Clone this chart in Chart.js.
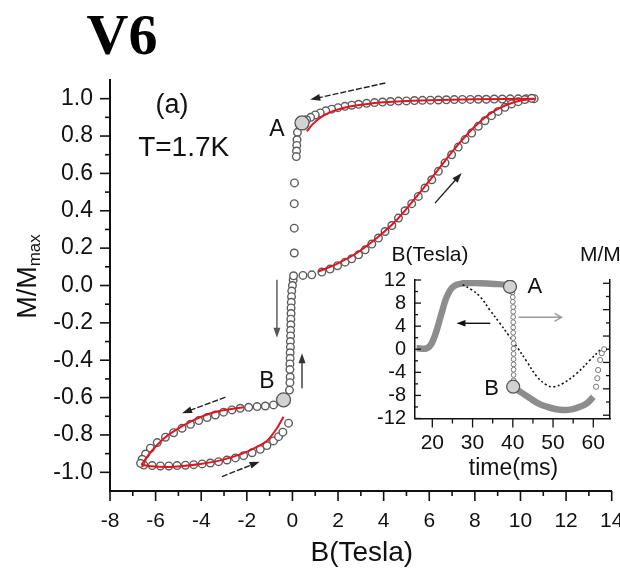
<!DOCTYPE html>
<html>
<head>
<meta charset="utf-8">
<script src="https://cdn.jsdelivr.net/npm/chart.js@4.4.1/dist/chart.umd.min.js"></script>
<style>
  html, body { margin: 0; padding: 0; background: #fff; }
  #wrap { position: relative; width: 620px; height: 570px; overflow: hidden; }
  #main { position: absolute; left: 0; top: 0; }
  #inset { position: absolute; left: 370px; top: 235px; }
</style>
</head>
<body>
<div id="wrap">
  <canvas id="main" width="620" height="570" style="width:620px;height:570px"></canvas>
  <canvas id="inset" width="250" height="245" style="width:250px;height:245px"></canvas>
</div>
<script>
// ---- main loop, open circles (B in Tesla, M/Mmax) ----
const riseB = [0.05, 0.46, 0.85, 1.29, 1.65, 1.98, 2.31, 2.60, 2.90, 3.19, 3.48, 3.77, 4.06, 4.36, 4.65, 4.94, 5.23, 5.52, 5.81, 6.11, 6.40, 6.69, 6.98, 7.27, 7.57, 7.86, 8.15, 8.44, 8.73, 9.02, 9.32, 9.61, 9.90, 10.19, 10.49]
const riseM = [0.052, 0.054, 0.057, 0.072, 0.088, 0.106, 0.125, 0.143, 0.164, 0.191, 0.222, 0.254, 0.289, 0.321, 0.361, 0.400, 0.438, 0.477, 0.522, 0.566, 0.611, 0.656, 0.700, 0.741, 0.781, 0.816, 0.852, 0.882, 0.909, 0.932, 0.954, 0.972, 0.984, 0.995, 1.002]

const topB = [10.6, 10.25, 9.9, 9.55, 9.2, 8.85, 8.5, 8.15, 7.8, 7.45, 7.1, 6.75, 6.4, 6.05, 5.7, 5.35, 5.0, 4.65, 4.3, 3.95, 3.6, 3.25, 2.9, 2.6, 2.3, 2.0, 1.72, 1.46, 1.22, 1.0, 0.8, 0.62]
const topM = [1.0, 1.0, 0.999, 0.999, 0.998, 0.998, 0.997, 0.997, 0.996, 0.996, 0.995, 0.994, 0.993, 0.992, 0.991, 0.99, 0.988, 0.987, 0.985, 0.982, 0.979, 0.975, 0.97, 0.965, 0.959, 0.952, 0.944, 0.935, 0.924, 0.913, 0.9, 0.887]

const dropB = [0.22, 0.2, 0.19, 0.18, 0.17, 0.09, 0.08, 0.08, 0.08]
const dropM = [0.82, 0.78, 0.75, 0.72, 0.69, 0.549, 0.438, 0.307, 0.174]

const columnB = [0.03, 0.0, -0.03, -0.04, -0.05, -0.06, -0.06, -0.07, -0.07, -0.08, -0.08, -0.09, -0.09, -0.10, -0.10, -0.11, -0.11, -0.10, -0.11, -0.13]
const columnM = [0.03, 0.0, -0.03, -0.06, -0.09, -0.12, -0.15, -0.18, -0.21, -0.24, -0.27, -0.30, -0.33, -0.36, -0.39, -0.42, -0.45, -0.49, -0.52, -0.56]

const loopUpB = [-0.83, -1.19, -1.55, -1.92, -2.29, -2.65, -3.02, -3.38, -3.74, -4.11, -4.47, -4.84, -5.21, -5.57, -5.93, -6.23, -6.44, -6.59, -6.66]
const loopUpM = [-0.639, -0.645, -0.648, -0.652, -0.657, -0.666, -0.678, -0.693, -0.707, -0.723, -0.743, -0.764, -0.788, -0.812, -0.841, -0.871, -0.902, -0.930, -0.952]

const loopLowB = [-6.52, -6.15, -5.79, -5.42, -5.06, -4.69, -4.33, -3.96, -3.60, -3.24, -2.87, -2.50, -2.14, -1.77, -1.41, -1.12, -0.83, -0.61, -0.42, -0.17]
const loopLowM = [-0.961, -0.964, -0.966, -0.966, -0.964, -0.962, -0.959, -0.955, -0.950, -0.943, -0.934, -0.923, -0.911, -0.895, -0.877, -0.857, -0.832, -0.809, -0.785, -0.737]

// big grey markers A and B
const markB = [0.42, -0.39]
const markM = [0.87, -0.612]

// ---- red model curves ----
const redRiseB = [1.14, 1.95, 2.82, 3.70, 4.58, 5.45, 6.33, 7.20, 8.08, 8.95, 9.83, 10.63]
const redRiseM = [0.075, 0.116, 0.174, 0.254, 0.352, 0.477, 0.611, 0.745, 0.861, 0.941, 0.985, 1.0]
const redTopB = [0.63, 0.9, 1.3, 1.8, 2.5, 3.5, 4.6, 6.0, 8.0, 10.6]
const redTopM = [0.825, 0.865, 0.905, 0.935, 0.958, 0.975, 0.985, 0.992, 0.997, 1.0]
const redLoopUpB = [-2.14, -2.6, -3.2, -3.8, -4.4, -5.0, -5.6, -6.2, -6.62]
const redLoopUpM = [-0.652, -0.66, -0.672, -0.693, -0.725, -0.765, -0.815, -0.89, -0.96]
const redLoopLowB = [-6.62, -6.2, -5.5, -4.8, -4.04, -3.3, -2.58, -1.9, -1.55, -1.12, -0.68, -0.39]
const redLoopLowM = [-0.96, -0.968, -0.972, -0.966, -0.955, -0.94, -0.916, -0.885, -0.863, -0.832, -0.764, -0.702]

const xTicks = [-8, -6, -4, -2, 0, 2, 4, 6, 8, 10, 12, 14]
const yTicks = [-1.0, -0.8, -0.6, -0.4, -0.2, 0.0, 0.2, 0.4, 0.6, 0.8, 1.0]

// ---- inset: time (ms) ----
const dotT = [27.5, 29.8, 31.9, 34.3, 36.8, 38.9, 41.0, 43.5, 46.0, 48.4, 50.1, 52.5, 55.9, 59.2, 61.7]
const dotB = [11.2, 10.3, 9.1, 6.8, 4.5, 2.47, 0.44, -2.15, -4.75, -6.2, -6.49, -5.9, -4.17, -1.86, -0.13]

const bandT = [16.1, 18.6, 19.85, 21.1, 22.3, 23.6, 25.2, 27.7, 31.9, 35.5, 38.5, 39.3]
const bandM = [0.014, 0.014, 0.09, 0.29, 0.545, 0.796, 0.948, 1.0, 1.0, 0.99, 0.974, 0.948]
const band2T = [40.1, 41.8, 44.3, 46.3, 48.4, 50.5, 52.5, 54.6, 56.7, 58.4, 60.0]
const band2M = [-0.568, -0.643, -0.744, -0.82, -0.871, -0.906, -0.921, -0.911, -0.871, -0.82, -0.72]

const colT = [39.9, 40.0, 40.0, 40.1, 40.1, 40.1, 40.1, 40.1, 40.1, 40.1, 40.2, 40.2, 40.2, 40.2, 40.2, 40.2, 40.2, 40.2]
const colM = [0.86, 0.79, 0.72, 0.64, 0.57, 0.49, 0.41, 0.33, 0.25, 0.17, 0.09, 0.01, -0.07, -0.15, -0.23, -0.31, -0.39, -0.47]
const endT = [60.7, 61.0, 61.2, 61.7, 62.1, 62.7]
const endM = [-0.568, -0.44, -0.315, -0.163, -0.06, 0.0]

const insetMarkT = [39.3, 40.1]
const insetMarkM = [0.948, -0.568]

const insetXTicks = [20, 30, 40, 50, 60]
const insetYTicks = [-12, -8, -4, 0, 4, 8, 12]

const RED = '#e3141f'
const FONT = 'Liberation Sans'

function pts(xs, ys) {
  return xs.map((x, i) => ({ x: x, y: ys[i] }))
}

function drawArrow(ctx, x0, y0, x1, y1, o) {
  const ang = Math.atan2(y1 - y0, x1 - x0)
  const L = o.head || 10, W = o.half || 3.5
  ctx.save()
  ctx.strokeStyle = o.color
  ctx.fillStyle = o.color
  ctx.lineWidth = o.width || 1.4
  ctx.setLineDash(o.dash || [])
  ctx.beginPath()
  ctx.moveTo(x0, y0)
  const back = o.open ? 0 : L * 0.8
  ctx.lineTo(x1 - Math.cos(ang) * back, y1 - Math.sin(ang) * back)
  ctx.stroke()
  ctx.setLineDash([])
  const bx = x1 - Math.cos(ang) * L, by = y1 - Math.sin(ang) * L
  const nx = -Math.sin(ang) * W, ny = Math.cos(ang) * W
  ctx.beginPath()
  ctx.moveTo(bx + nx, by + ny)
  ctx.lineTo(x1, y1)
  ctx.lineTo(bx - nx, by - ny)
  if (o.open) { ctx.stroke() } else { ctx.closePath(); ctx.fill() }
  ctx.restore()
}

function drawLabel(ctx, t, px, py) {
  const fam = t.family || FONT
  const wt = t.weight || 'normal'
  ctx.save()
  ctx.translate(px, py)
  if (t.rot) ctx.rotate(t.rot)
  ctx.font = `${wt} ${t.size}px "${fam}"`
  const w1 = ctx.measureText(t.text).width
  let w2 = 0
  if (t.sub) {
    ctx.font = `${t.subSize}px "${fam}"`
    w2 = ctx.measureText(t.sub).width
  }
  const x = t.align === 'left' ? 0 : -(w1 + w2) / 2
  const base = t.size * 0.36
  ctx.fillStyle = t.color || '#111'
  ctx.textAlign = 'left'
  ctx.textBaseline = 'alphabetic'
  ctx.font = `${wt} ${t.size}px "${fam}"`
  ctx.fillText(t.text, x, base)
  if (t.sub) {
    ctx.font = `${t.subSize}px "${fam}"`
    ctx.fillText(t.sub, x + w1, base + t.subDy)
  }
  ctx.restore()
}

// minor + major tick marks (Chart.js has no minor ticks)
function tickMarks(axes, width) {
  return {
    id: 'tickMarks',
    afterDraw(chart) {
      const ctx = chart.ctx
      ctx.save()
      ctx.strokeStyle = '#111'
      ctx.lineWidth = width
      axes.forEach(a => {
        const s = chart.scales[a.id]
        const n = Math.round((a.to - a.from) / a.step)
        for (let k = 0; k <= n; k++) {
          const p = s.getPixelForValue(a.from + k * a.step)
          const len = (k % a.every === 0) ? a.major : a.minor
          ctx.beginPath()
          if (s.position === 'bottom') {
            ctx.moveTo(p, s.top); ctx.lineTo(p, s.top + a.sign * len)
          } else {
            const x0 = s.position === 'left' ? s.right : s.left
            ctx.moveTo(x0, p); ctx.lineTo(x0 + a.sign * len, p)
          }
          ctx.stroke()
        }
      })
      ctx.restore()
    }
  }
}

// arrows and text labels, placed through the chart's own scales
function notes(arrows, texts) {
  return {
    id: 'notes',
    afterDraw(chart) {
      const ctx = chart.ctx, a = chart.chartArea, scales = chart.scales
      arrows.forEach(ar => {
        const ys = scales[ar.yAxis || 'y']
        drawArrow(ctx,
          scales.x.getPixelForValue(ar.from[0]), ys.getPixelForValue(ar.from[1]),
          scales.x.getPixelForValue(ar.to[0]), ys.getPixelForValue(ar.to[1]), ar)
      })
      texts.forEach(t => {
        let px, py
        if (t.at) {
          px = scales.x.getPixelForValue(t.at[0])
          py = scales[t.yAxis || 'y'].getPixelForValue(t.at[1])
        } else if (t.area) {
          const hx = t.area[0], dx = t.area[1], vy = t.area[2], dy = t.area[3]
          px = (hx === 'left' ? a.left : hx === 'right' ? a.right : (a.left + a.right) / 2) + dx
          py = (vy === 'top' ? a.top : vy === 'bottom' ? a.bottom : (a.top + a.bottom) / 2) + dy
        } else {
          px = t.page[0]; py = t.page[1]
        }
        drawLabel(ctx, t, px, py)
      })
    }
  }
}

const mainArrows = [
  { from: [4.07, 1.084], to: [0.78, 0.995], color: '#222', dash: [6, 2] },
  { from: [6.25, 0.441], to: [7.42, 0.602], color: '#222' },
  { from: [-0.68, 0.031], to: [-0.68, -0.28], color: '#555' },
  { from: [0.42, -0.55], to: [0.42, -0.362], color: '#333' },
  { from: [-2.94, -0.598], to: [-4.84, -0.684], color: '#222', dash: [6, 2] },
  { from: [-3.09, -1.023], to: [-1.44, -0.943], color: '#222', dash: [6, 2] }
]
const mainTexts = [
  { text: 'V6', page: [122, 33], size: 58, weight: 'bold', family: 'Liberation Serif', color: '#000' },
  { text: '(a)', at: [-5.28, 0.977], size: 27 },
  { text: 'T=1.7K', at: [-4.77, 0.745], size: 28 },
  { text: 'A', at: [-0.68, 0.843], size: 23 },
  { text: 'B', at: [-1.12, -0.505], size: 23 },
  { text: 'B(Tesla)', area: ['center', 1, 'bottom', 60], size: 28 },
  { text: 'M/M', sub: 'max', area: ['left', -84, 'middle', -9], size: 27, subSize: 17, subDy: 4, rot: -Math.PI / 2 }
]
const insetArrows = [
  { from: [34.4, 4.5], to: [26.0, 4.5], color: '#111', head: 9, half: 3.2 },
  { from: [41.4, 5.54], to: [52.1, 5.54], color: '#9a9a9a', open: true, head: 7, half: 4 }
]
const insetTexts = [
  { text: 'B(Tesla)', area: ['left', 15, 'top', -26.7], size: 21 },
  { text: 'M/M', sub: 'max', area: ['right', -30, 'top', -26.7], size: 21, subSize: 13, subDy: 4, align: 'left' },
  { text: 'time(ms)', area: ['center', 1, 'bottom', 48], size: 23 },
  { text: 'A', at: [45.5, 11.13], size: 22 },
  { text: 'B', at: [34.75, -6.49], size: 22 }
]

const circleStyle = {
  showLine: false, pointRadius: 3.8, pointBackgroundColor: '#fff',
  pointBorderColor: '#5c5c5c', pointBorderWidth: 1.4, order: 2
}
const redStyle = {
  showLine: true, borderColor: RED, borderWidth: 2, pointRadius: 0, tension: 0.4, order: 1
}

new Chart(document.getElementById('main'), {
  type: 'scatter',
  data: {
    datasets: [
      { data: pts(markB, markM), showLine: false, pointRadius: 7, pointBackgroundColor: '#d2d2d2',
        pointBorderColor: '#555', pointBorderWidth: 1.3, order: 0 },
      { data: pts(redRiseB, redRiseM), ...redStyle },
      { data: pts(redTopB, redTopM), ...redStyle },
      { data: pts(redLoopUpB, redLoopUpM), ...redStyle, tension: 0.3 },
      { data: pts(redLoopLowB, redLoopLowM), ...redStyle, tension: 0.3 },
      { data: pts(riseB, riseM), ...circleStyle },
      { data: pts(topB, topM), ...circleStyle },
      { data: pts(dropB, dropM), ...circleStyle },
      { data: pts(columnB, columnM), ...circleStyle },
      { data: pts(loopUpB, loopUpM), ...circleStyle },
      { data: pts(loopLowB, loopLowM), ...circleStyle }
    ]
  },
  options: {
    responsive: false,
    animation: false,
    events: [],
    layout: { padding: { top: 80, right: 8, left: 0, bottom: 0 } },
    plugins: { legend: { display: false }, tooltip: { enabled: false } },
    scales: {
      x: {
        type: 'linear', position: 'bottom', min: -8, max: 14,
        afterBuildTicks: s => { s.ticks = xTicks.map(v => ({ value: v })) },
        afterFit: s => { s.height = 79; s.paddingLeft = 0; s.paddingRight = 0 },
        grid: { display: false, tickLength: 10 },
        border: { display: true, color: '#111', width: 2 },
        ticks: { padding: 8, color: '#111', maxRotation: 0, autoSkip: false,
          font: { family: FONT, size: 21 }, callback: v => String(v) }
      },
      y: {
        type: 'linear', position: 'left', min: -1.1, max: 1.1,
        afterBuildTicks: s => { s.ticks = yTicks.map(v => ({ value: v })) },
        afterFit: s => { s.width = 110; s.paddingTop = 0; s.paddingBottom = 0 },
        grid: { display: false, tickLength: 10 },
        border: { display: true, color: '#111', width: 2 },
        ticks: { padding: 7, color: '#111', autoSkip: false,
          font: { family: FONT, size: 23 }, callback: v => v.toFixed(1) }
      }
    }
  },
  plugins: [
    tickMarks([
      { id: 'x', from: -8, to: 14, step: 1, every: 2, major: 10, minor: 5, sign: 1 },
      { id: 'y', from: -1.0, to: 1.0, step: 0.1, every: 2, major: 10, minor: 5, sign: -1 }
    ], 1.6),
    notes(mainArrows, mainTexts)
  ]
})

new Chart(document.getElementById('inset'), {
  type: 'scatter',
  data: {
    datasets: [
      { data: pts(insetMarkT, insetMarkM), yAxisID: 'yR', showLine: false, pointRadius: 6.5,
        pointBackgroundColor: '#d2d2d2', pointBorderColor: '#555', pointBorderWidth: 1.3, order: 0 },
      { data: pts(colT, colM), yAxisID: 'yR', showLine: false, pointRadius: 2.4,
        pointBackgroundColor: '#fff', pointBorderColor: '#777', pointBorderWidth: 1, order: 1 },
      { data: pts(endT, endM), yAxisID: 'yR', showLine: false, pointRadius: 2.6,
        pointBackgroundColor: '#fff', pointBorderColor: '#777', pointBorderWidth: 1, order: 1 },
      { data: pts(dotT, dotB), yAxisID: 'y', showLine: true, borderColor: '#111', borderWidth: 1.6,
        borderDash: [2, 2.5], pointRadius: 0, tension: 0.4, order: 2 },
      { data: pts(bandT, bandM), yAxisID: 'yR', showLine: true, borderColor: '#8d8d8d', borderWidth: 6.5,
        pointRadius: 0, tension: 0.35, order: 3 },
      { data: pts(band2T, band2M), yAxisID: 'yR', showLine: true, borderColor: '#8d8d8d', borderWidth: 6.5,
        pointRadius: 0, tension: 0.4, order: 3 }
    ]
  },
  options: {
    responsive: false,
    animation: false,
    events: [],
    layout: { padding: { top: 45, right: 0, left: 0, bottom: 0 } },
    plugins: { legend: { display: false }, tooltip: { enabled: false } },
    scales: {
      x: {
        type: 'linear', position: 'bottom', min: 15.7, max: 64.15,
        afterBuildTicks: s => { s.ticks = insetXTicks.map(v => ({ value: v })) },
        afterFit: s => { s.height = 61.5; s.paddingLeft = 0; s.paddingRight = 0 },
        grid: { display: false, tickLength: 10 },
        border: { display: true, color: '#111', width: 1.5 },
        ticks: { padding: 2, color: '#111', maxRotation: 0, autoSkip: false,
          font: { family: FONT, size: 21 }, callback: v => String(v) }
      },
      y: {
        type: 'linear', position: 'left', min: -12, max: 12,
        afterBuildTicks: s => { s.ticks = insetYTicks.map(v => ({ value: v })) },
        afterFit: s => { s.width = 45; s.paddingTop = 0; s.paddingBottom = 0 },
        grid: { display: false, drawTicks: false },
        border: { display: true, color: '#111', width: 1.5 },
        ticks: { padding: 9, color: '#111', autoSkip: false,
          font: { family: FONT, size: 20 }, callback: v => String(v) }
      },
      yR: {
        type: 'linear', position: 'right', min: -1.05, max: 1.05,
        afterBuildTicks: s => { s.ticks = [] },
        afterFit: s => { s.width = 10; s.paddingTop = 0; s.paddingBottom = 0 },
        grid: { display: false, drawTicks: false },
        border: { display: true, color: '#111', width: 1.5 },
        ticks: { display: false }
      }
    }
  },
  plugins: [
    tickMarks([
      { id: 'x', from: 20, to: 60, step: 5, every: 2, major: 9, minor: 5, sign: 1 },
      { id: 'y', from: -12, to: 12, step: 2, every: 2, major: 6, minor: 3, sign: 1 },
      { id: 'yR', from: -1.0, to: 1.0, step: 0.2, every: 2, major: 7, minor: 4, sign: -1 }
    ], 1.3),
    notes(insetArrows, insetTexts)
  ]
})
</script>
</body>
</html>
